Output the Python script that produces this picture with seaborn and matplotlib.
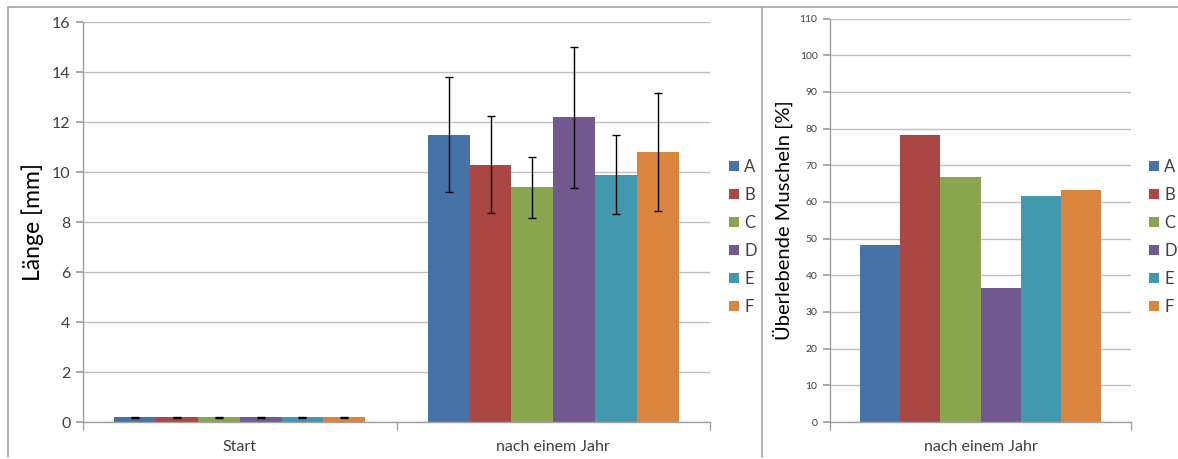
import matplotlib
matplotlib.use("Agg")
import matplotlib.pyplot as plt
import seaborn as sns
import pandas as pd
from matplotlib.patches import Rectangle
from matplotlib.lines import Line2D

# ---- data ----
groups = ["A", "B", "C", "D", "E", "F"]
zeitpunkte = ["Start", "nach einem Jahr"]
laenge_start = [0.2, 0.2, 0.2, 0.2, 0.2, 0.2]
laenge_start_err = [0.02, 0.02, 0.02, 0.02, 0.02, 0.02]
laenge_jahr = [11.5, 10.3, 9.4, 12.2, 9.9, 10.8]
laenge_jahr_err = [2.3, 1.95, 1.22, 2.82, 1.6, 2.38]
ueberleben = [48.3, 78.3, 66.7, 36.6, 61.7, 63.3]
colors = ["#4572A7", "#AA4643", "#89A54E", "#71588F", "#4198AF", "#DB843D"]

sns.set_theme(style="white")
plt.rcParams["font.family"] = ["Lato", "DejaVu Sans"]
text_col = "#404040"
grid_col = "#BEBEBE"

df_len = pd.DataFrame({
    "Zeitpunkt": [zeitpunkte[0]] * 6 + [zeitpunkte[1]] * 6,
    "Gruppe": groups * 2,
    "Wert": laenge_start + laenge_jahr,
    "Fehler": laenge_start_err + laenge_jahr_err,
})
df_surv = pd.DataFrame({
    "Zeitpunkt": [zeitpunkte[1]] * 6,
    "Gruppe": groups,
    "Wert": ueberleben,
})

fig = plt.figure(figsize=(11.78, 4.59), dpi=100)
W, H = 1178, 459

def fx(px):
    return px / W

def fy(py):
    return 1 - py / H

# panel frame lines (top, left edge, divider)
frame_col = "#A6A6A6"
for xs_, ys_ in [((8, 1178), (7, 7)), ((8, 8), (7, 457)), ((762, 762), (7, 457))]:
    fig.add_artist(Line2D([fx(v) for v in xs_], [fy(v) for v in ys_],
                          transform=fig.transFigure, color=frame_col, linewidth=1.2))

pal = dict(zip(groups, colors))

def style_axes(ax, ymax, ystep, tick_fs):
    ax.set_ylim(0, ymax)
    ax.set_yticks(list(range(0, ymax + 1, ystep)))
    ax.yaxis.grid(True, color=grid_col, linewidth=1.0)
    ax.set_axisbelow(True)
    for s in ["top", "right"]:
        ax.spines[s].set_visible(False)
    for s in ["left", "bottom"]:
        ax.spines[s].set_color("#A0A0A0")
        ax.spines[s].set_linewidth(1.0)
    ax.tick_params(axis="y", which="both", left=True, direction="out", length=5,
                   color="#A0A0A0", labelsize=tick_fs, labelcolor=text_col, pad=4)
    ax.set_xlabel("")

def place_legend(x_px):
    handles = [Rectangle((0, 0), 1, 1, facecolor=c, edgecolor="none") for c in colors]
    leg = fig.legend(handles, groups, loc="upper left",
                     bbox_to_anchor=(fx(x_px), fy(159)), frameon=False,
                     borderpad=0, borderaxespad=0,
                     handlelength=0.6, handleheight=0.6, handletextpad=0.3,
                     labelspacing=0.72, fontsize=12, labelcolor=text_col)
    return leg

# ---- left chart ----
ax1 = fig.add_axes([fx(83), fy(422), fx(710) - fx(83), fy(22) - fy(422)])
sns.barplot(data=df_len, x="Zeitpunkt", y="Wert", hue="Gruppe", order=zeitpunkte,
            hue_order=groups, palette=pal, width=0.8, errorbar=None,
            saturation=1, linewidth=0, ax=ax1, legend=False)
for cont, g in zip(ax1.containers, groups):
    xs = [p.get_x() + p.get_width() / 2 for p in cont.patches]
    hs = [p.get_height() for p in cont.patches]
    errs = df_len[df_len["Gruppe"] == g].set_index("Zeitpunkt").loc[zeitpunkte, "Fehler"].tolist()
    ax1.errorbar(xs, hs, yerr=errs, fmt="none", ecolor="black", elinewidth=1.0,
                 capsize=3, capthick=1.0)
style_axes(ax1, 16, 2, 11.5)
ax1.set_xlim(-0.5, 1.5)
ax1.set_xticks([0, 1])
ax1.set_xticklabels(zeitpunkte, fontsize=11.5, color=text_col)
ax1.tick_params(axis="x", length=0, pad=13)
ax1.set_xticks([-0.5, 0.5, 1.5], minor=True)
ax1.tick_params(axis="x", which="minor", bottom=True, length=6, direction="out", color="#A0A0A0")
ax1.set_ylabel("Länge [mm]", fontsize=16.5, color="black", labelpad=6)
place_legend(729)

# ---- right chart ----
ax2 = fig.add_axes([fx(830), fy(422), fx(1131) - fx(830), fy(18.5) - fy(422)])
sns.barplot(data=df_surv, x="Zeitpunkt", y="Wert", hue="Gruppe", hue_order=groups,
            palette=pal, width=0.8, errorbar=None, saturation=1, linewidth=0,
            ax=ax2, legend=False)
style_axes(ax2, 110, 10, 7.5)
ax2.set_xlim(-0.5, 0.5)
ax2.set_xticks([0])
ax2.set_xticklabels([zeitpunkte[1]], fontsize=11.5, color=text_col)
ax2.tick_params(axis="x", length=0, pad=13)
ax2.set_xticks([-0.5, 0.5], minor=True)
ax2.tick_params(axis="x", which="minor", bottom=True, length=6, direction="out", color="#A0A0A0")
ax2.set_ylabel("Überlebende Muscheln [%]", fontsize=14.5, color="black", labelpad=5)
place_legend(1149)

fig.savefig("out.png", dpi=100, facecolor="white")
